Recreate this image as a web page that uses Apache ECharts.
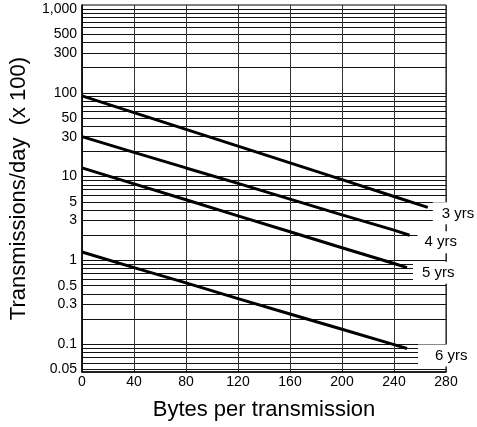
<!DOCTYPE html>
<html lang="en">
<head>
	<meta charset="UTF-8">
	<title>Transmissions per day vs bytes</title>
	<script src="https://cdn.jsdelivr.net/npm/echarts@6/dist/echarts.min.js"></script>
	<style>
		html, body { margin: 0; padding: 0; background: #fff; }
	</style>
</head>
<body>
	<div id="main" style="width: 477px;height: 427px;"></div>
	<script>
		// bytes per transmission for each line, and transmissions/day (x 100)
		var x3 = [0, 40, 80, 120, 160, 200, 240, 266];
		var y3 = [92, 58, 36.6, 23.1, 14.6, 9.2, 5.8, 4.3];
		var x4 = [0, 40, 80, 120, 160, 200, 240, 252];
		var y4 = [30, 19.5, 12.7, 8.3, 5.4, 3.5, 2.3, 2.0];
		var x5 = [0, 40, 80, 120, 160, 200, 240, 250];
		var y5 = [12.7, 8.2, 5.3, 3.4, 2.2, 1.42, 0.92, 0.82];
		var x6 = [0, 40, 80, 120, 160, 200, 240, 250];
		var y6 = [1.26, 0.82, 0.54, 0.35, 0.23, 0.151, 0.099, 0.089];
		var lineNames = ['3 yrs', '4 yrs', '5 yrs', '6 yrs'];

		var yLabels = [0.05, 0.1, 0.3, 0.5, 1, 3, 5, 10, 30, 50, 100, 300, 500, 1000];
		var yGrid = [0.05, 0.06, 0.07, 0.08, 0.09,
			0.1, 0.2, 0.3, 0.4, 0.5, 0.6, 0.7, 0.8, 0.9,
			1, 2, 3, 4, 5, 6, 7, 8, 9,
			10, 20, 30, 40, 50, 60, 70, 80, 90,
			100, 200, 300, 400, 500, 600, 700, 800, 900, 1000];

		var font = 'Liberation Sans, Arial, Helvetica, sans-serif';

		function pairs(xs, ys) {
			var out = [];
			for (var i = 0; i < xs.length; i++) out.push([xs[i], ys[i]]);
			return out;
		}

		// label boxes: [offsetX, offsetY, paddingLeft]
		var labelPos = [[5, 6, 9], [8, 7, 7], [6, 5, 9], [11, 7, 17]];

		function makeSeries(idx, xs, ys) {
			var p = labelPos[idx];
			return {
				name: lineNames[idx],
				type: 'line',
				data: pairs(xs, ys),
				showSymbol: false,
				symbol: 'none',
				lineStyle: { color: '#000', width: 3 },
				z: 3,
				endLabel: {
					show: true,
					formatter: lineNames[idx],
					distance: 0,
					offset: [p[0], p[1]],
					color: '#000',
					fontFamily: font,
					fontSize: 15,
					lineHeight: 16,
					backgroundColor: '#fff',
					padding: [3, 30, 3, p[2]]
				}
			};
		}

		var myChart = echarts.init(document.getElementById('main'));
		var option = {
			animation: false,
			backgroundColor: '#fff',
			grid: {
				left: 80, right: 31, top: 5, bottom: 55,
				show: true,
				borderColor: '#000',
				borderWidth: 1
			},
			xAxis: {
				type: 'value',
				min: 0, max: 280, interval: 40,
				name: 'Bytes per transmission',
				nameLocation: 'middle',
				nameGap: 27,
				nameTextStyle: { fontFamily: font, fontSize: 22, color: '#000' },
				axisLine: { show: true, lineStyle: { color: '#000', width: 1.5 } },
				axisTick: { show: false },
				axisLabel: { fontFamily: font, fontSize: 14, color: '#000', margin: 3 },
				splitLine: { show: true, lineStyle: { color: '#333', width: 1 } }
			},
			yAxis: {
				type: 'log',
				logBase: 10,
				min: 0.0467, max: 1116,
				name: 'Transmissions/day  (x 100)',
				nameLocation: 'middle',
				nameGap: 52,
				nameTextStyle: { fontFamily: font, fontSize: 22, color: '#000' },
				axisLine: { show: true, lineStyle: { color: '#000', width: 1.5 } },
				axisTick: { show: false, customValues: yGrid },
				axisLabel: {
					customValues: yLabels,
					fontFamily: font, fontSize: 14, color: '#000', margin: 5,
					formatter: function (v) { return v === 1000 ? '1,000' : String(v); }
				},
				splitLine: { show: true, lineStyle: { color: '#111', width: 1 } }
			},
			series: [
				makeSeries(0, x3, y3),
				makeSeries(1, x4, y4),
				makeSeries(2, x5, y5),
				makeSeries(3, x6, y6)
			]
		};
		myChart.setOption(option);
	</script>
</body>
</html>
